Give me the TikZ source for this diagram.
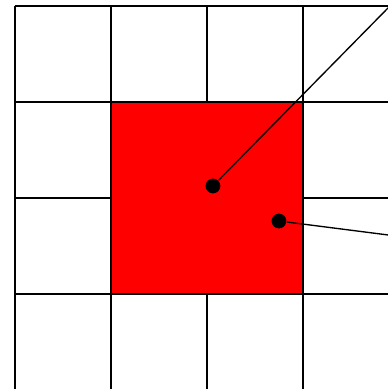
\documentclass[tikz,border=0pt]{standalone}
\usetikzlibrary{positioning}

\begin{document}
\begin{tikzpicture}[
    dot/.style={circle, fill=black, inner sep=0pt, minimum size=4.4pt}
]

\useasboundingbox (-0.156,-0.99) rectangle (3.885,3.0625);
\clip (-0.156,-0.99) rectangle (3.885,3.0625);

\draw (0,-1) grid (4,3);

\fill[red] ([shift={(0.2pt,0.2pt)}]1,0) rectangle ([shift={(-0.2pt,-0.2pt)}]3,2);

\node[dot] (p1) at (2.0625,1.125) {};
\node[dot] (p2) at (2.75,0.76) {};

\coordinate (q1) at (4,3.095);
\coordinate (q2) at (4,0.6);

\draw (p1) -- (q1);
\draw (p2) -- (q2);

\end{tikzpicture}
\end{document}
